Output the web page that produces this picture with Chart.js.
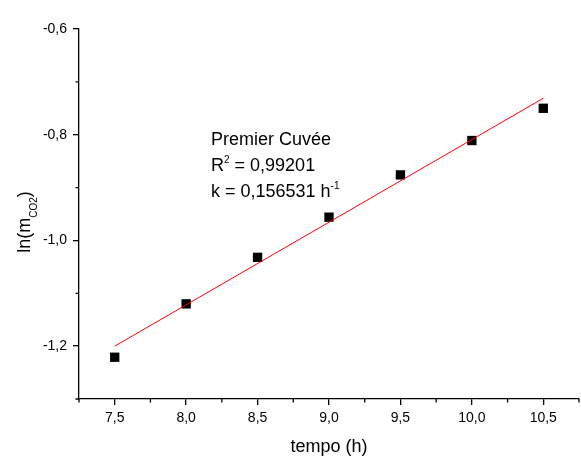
<!DOCTYPE html>
<html>
<head>
<meta charset="utf-8">
<script src="https://cdn.jsdelivr.net/npm/chart.js@4.4.0/dist/chart.umd.min.js"></script>
<style>
  body { margin: 0; background: #fff; }
  #wrap { width: 581px; height: 457px; }
</style>
</head>
<body>
<div id="wrap"><canvas id="chart" width="581" height="457"></canvas></div>
<script>
// values
const tempo = [7.5, 8.0, 8.5, 9.0, 9.5, 10.0, 10.5];
const lnMco2 = [-1.221, -1.120, -1.032, -0.956, -0.876, -0.811, -0.750];
const fitX = [7.5, 10.5];
const fitY = [-1.2, -0.731];

const xTicks = [7.5, 8.0, 8.5, 9.0, 9.5, 10.0, 10.5];
const xMinor = [7.25, 7.75, 8.25, 8.75, 9.25, 9.75, 10.25, 10.75];
const yTicks = [-1.2, -1.0, -0.8, -0.6];
const yMinor = [-1.3, -1.1, -0.9, -0.7];

const FONT = "'Liberation Sans', Arial, sans-serif";
Chart.defaults.font.family = FONT;
Chart.defaults.color = '#000';

const fmt = v => v.toFixed(1).replace('.', ',');

// draws text pieces with sub/superscripts, returns end x
function drawRich(ctx, parts, x, y) {
    parts.forEach(p => {
        ctx.font = p.size + 'px ' + FONT;
        ctx.fillText(p.t, x, y + (p.dy || 0));
        x += ctx.measureText(p.t).width;
    });
    return x;
}

// chart.js keeps a few px spare on the right; stretch the x axis to the edge
const fixRight = {
    id: 'fixRight',
    afterLayout(chart) {
        const xs = chart.scales.x, a = chart.chartArea;
        a.right = chart.width - 2;
        a.width = a.right - a.left;
        xs.right = a.right;
        xs.width = a.right - xs.left;
        xs.configure();
    }
};

const extras = {
    id: 'extras',
    afterDraw(chart) {
        const ctx = chart.ctx;
        const xs = chart.scales.x, ys = chart.scales.y;
        const area = chart.chartArea;
        ctx.save();
        ctx.strokeStyle = '#000';
        ctx.lineWidth = 1.3;
        // minor ticks
        ctx.beginPath();
        xMinor.forEach(v => {
            const px = xs.getPixelForValue(v);
            ctx.moveTo(px, area.bottom);
            ctx.lineTo(px, area.bottom + 3.5);
        });
        yMinor.forEach(v => {
            const py = ys.getPixelForValue(v);
            ctx.moveTo(area.left, py);
            ctx.lineTo(area.left - 3.5, py);
        });
        ctx.stroke();

        ctx.fillStyle = '#000';
        ctx.textBaseline = 'alphabetic';
        ctx.textAlign = 'left';

        // x title
        ctx.font = '18px ' + FONT;
        const xt = 'tempo (h)';
        const cx = (area.left + area.right) / 2;
        ctx.fillText(xt, cx - ctx.measureText(xt).width / 2, 452);

        // y title with subscript
        const yParts = [{t: 'ln(m', size: 18}, {t: 'CO2', size: 10, dy: 7}, {t: ')', size: 18}];
        let w = 0;
        yParts.forEach(p => { ctx.font = p.size + 'px ' + FONT; w += ctx.measureText(p.t).width; });
        ctx.save();
        ctx.translate(29.5, 222);
        ctx.rotate(-Math.PI / 2);
        drawRich(ctx, yParts, -w / 2, 0);
        ctx.restore();

        // fit annotation
        const ax = 211;
        ctx.font = '18px ' + FONT;
        ctx.fillText('Premier Cuvée', ax, 145);
        drawRich(ctx, [{t: 'R', size: 18}, {t: '2', size: 10, dy: -8}, {t: ' = 0,99201', size: 18}], ax, 171);
        drawRich(ctx, [{t: 'k = 0,156531 h', size: 18}, {t: '-1', size: 10, dy: -8}], ax, 197);
        ctx.restore();
    }
};

const axisCommon = {
    type: 'linear',
    grid: { drawOnChartArea: false, drawTicks: true, tickLength: 6, color: '#000', lineWidth: 1.3 },
    border: { display: true, color: '#000', width: 1.3 },
    title: { display: false }
};

new Chart(document.getElementById('chart'), {
    data: {
        datasets: [
            {
                type: 'line',
                data: fitX.map((x, i) => ({x, y: fitY[i]})),
                borderColor: '#ff0000',
                borderWidth: 1,
                pointRadius: 0,
                fill: false,
                order: 0
            },
            {
                type: 'scatter',
                data: tempo.map((x, i) => ({x, y: lnMco2[i]})),
                pointStyle: 'rect',
                pointRadius: 6.6,
                backgroundColor: '#000',
                borderWidth: 0,
                order: 1
            }
        ]
    },
    options: {
        responsive: false,
        animation: false,
        layout: { padding: { left: 0, top: 29, right: 2, bottom: 0 } },
        plugins: { legend: { display: false }, tooltip: { enabled: false } },
        scales: {
            x: {
                ...axisCommon,
                position: 'bottom',
                min: 7.25,
                max: 10.75,
                afterBuildTicks: s => { s.ticks = xTicks.map(v => ({value: v})); },
                afterFit: s => { s.height = 58; },
                ticks: { font: { size: 14 }, padding: 5, maxRotation: 0, callback: v => fmt(v) }
            },
            y: {
                ...axisCommon,
                position: 'left',
                min: -1.3,
                max: -0.6,
                afterBuildTicks: s => { s.ticks = yTicks.map(v => ({value: v})); },
                afterFit: s => { s.width = 79; },
                ticks: { font: { size: 14 }, padding: 6, callback: v => fmt(v) }
            }
        }
    },
    plugins: [fixRight, extras]
});
</script>
</body>
</html>
